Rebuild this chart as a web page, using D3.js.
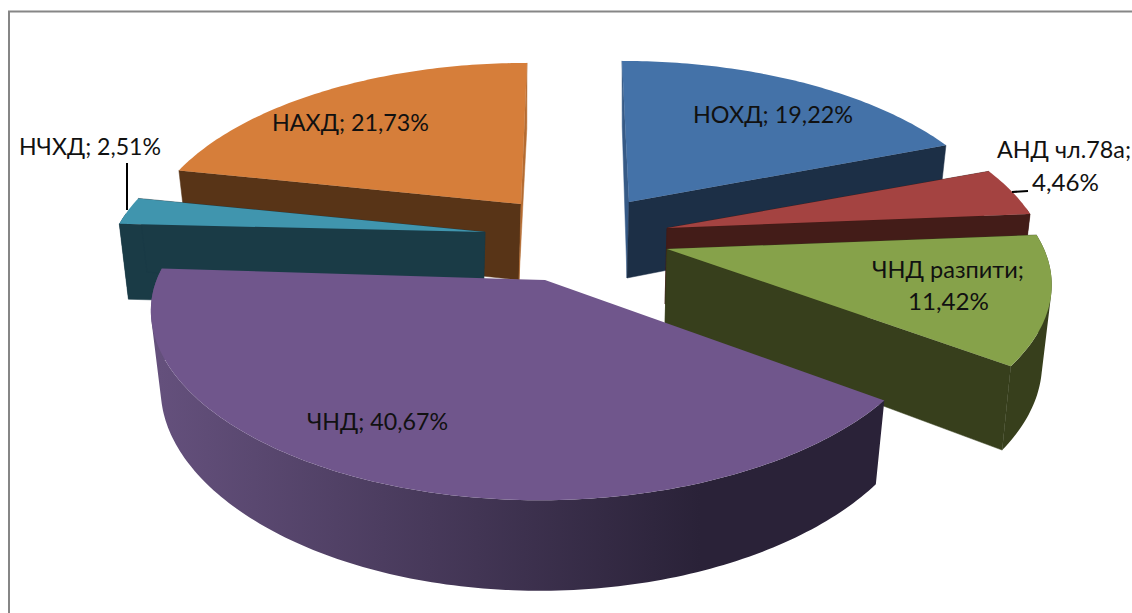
<!DOCTYPE html>
<html><head><meta charset="utf-8">
<script src="https://cdnjs.cloudflare.com/ajax/libs/d3/7.8.5/d3.min.js"></script>
<style>html,body{margin:0;padding:0;background:#fff;overflow:hidden}svg{display:block}</style>
</head><body><svg id="c" width="1132" height="613"></svg>
<script>
// --- data ---
const categories = ["НОХД","АНД чл.78а","ЧНД разпити","ЧНД","НЧХД","НАХД"];
const shares = [19.22,4.46,11.42,40.67,2.51,21.73];
const shareLabels = ["19,22%","4,46%","11,42%","40,67%","2,51%","21,73%"];

// --- style ---
const topColors  = ["#4472a8","#a44341","#86a24a","#70568c","#4095ae","#d67e3a"];
const wallColors = ["#1c2f46","#431c18","#373f1c","url(#purpleWall)","#1a3b46","#583417"];
const thinColors = ["#365a86","#431c18","#373f1c","#2a2238","#1a3b46","#b56c32"];

// --- layout: projection of each exploded slice ---
const apexX = [629,667,667,545,485,521];
const apexY = [202,228,249,280,232,204];
const spanX = [368.7,371,377,387,370,366.6];
const skewX = [8.5,0,-7.6,-10,0,-7.3];
const crossX = [0,0,0,-22,0,0];
const tiltY = [0,0,0,3.5,0,0];
const spanY = 172, persp = 0.219, depth0 = 76, depthPersp = 0.16, lowerScale = 0.975;

const labelLines = [
 [{t:0,x:693,y:123,w:160}],
 [{t:1,x:997,y:158,w:134},{t:2,x:1032,y:191,w:67}],
 [{t:1,x:872,y:278,w:152},{t:2,x:908,y:310,w:81}],
 [{t:0,x:307,y:430,w:141}],
 [{t:0,x:19,y:155,w:142}],
 [{t:0,x:272,y:131,w:157}]
];
const leaders = [
 {x1:127,y1:163,x2:127,y2:210},
 {x1:1012,y1:192,x2:1028,y2:191}
];
const drawOrder = [0,5,1,2,4,3];

const svg = d3.select("#c");
const grad = svg.append("defs").append("linearGradient").attr("id","purpleWall")
  .attr("gradientUnits","userSpaceOnUse").attr("x1",160).attr("x2",700).attr("y1",0).attr("y2",0);
grad.append("stop").attr("offset",0).attr("stop-color","#64507c");
grad.append("stop").attr("offset",1).attr("stop-color","#2a2238");

svg.append("path").attr("d","M9,613V11.5H1132").attr("fill","none").attr("stroke","#868686").attr("stroke-width",2);

const arcs = d3.pie().sort(null).startAngle(0).endAngle(2*Math.PI)(shares);
const pathOf = d3.line();

function topPt(i,th){
  const u=Math.sin(th), v=-Math.cos(th), w=1-persp*v;
  return [apexX[i]+(spanX[i]*u+skewX[i]*v+crossX[i]*u*v)/w, apexY[i]+(spanY*v+tiltY[i]*u)/w];
}
function lowPt(i,th){
  const p=topPt(i,th), v=-Math.cos(th);
  return [apexX[i]+(p[0]-apexX[i])*lowerScale, p[1]+depth0/(1-depthPersp*v)];
}
function lowApex(i){ return [apexX[i]-2, apexY[i]+depth0]; }

drawOrder.forEach(i=>{
  const a=arcs[i], g=svg.append("g");
  const n=Math.max(8,Math.ceil((a.endAngle-a.startAngle)*60));
  const ths=d3.range(n+1).map(k=>a.startAngle+(a.endAngle-a.startAngle)*k/n);
  // outer wall, only the part facing the viewer (one path, so no seams)
  let wall="";
  ths.slice(0,-1).forEach((t,k)=>{
    const t2=ths[k+1];
    if(-Math.cos(t)<-0.1 && -Math.cos(t2)<-0.1) return;
    let q=[topPt(i,t),topPt(i,t2),lowPt(i,t2),lowPt(i,t)];
    if(d3.polygonArea(q)<0) q=q.slice().reverse();
    wall+=pathOf(q)+"Z";
  });
  if(wall) g.append("path").attr("d",wall).attr("fill",wallColors[i]);
  // radial walls
  if(i!==3){
    const A=[apexX[i],apexY[i]], B=lowApex(i);
    const s=a.startAngle, e=a.endAngle;
    const startCol = i===0?thinColors[i]:wallColors[i], endCol = i===5?thinColors[i]:wallColors[i];
    g.append("path").attr("d",pathOf([A,topPt(i,s),lowPt(i,s),B])+"Z").attr("fill",startCol).attr("stroke",startCol).attr("stroke-width",0.5);
    g.append("path").attr("d",pathOf([A,topPt(i,e),lowPt(i,e),B])+"Z").attr("fill",endCol).attr("stroke",endCol).attr("stroke-width",0.5);
  }
  // top face
  g.append("path").attr("d",pathOf([[apexX[i],apexY[i]],...ths.map(t=>topPt(i,t))])+"Z").attr("fill",topColors[i]);
});

leaders.forEach(l=>svg.append("line").attr("x1",l.x1).attr("y1",l.y1).attr("x2",l.x2).attr("y2",l.y2).attr("stroke","#000").attr("stroke-width",2));

labelLines.forEach((lines,i)=>{
  lines.forEach(l=>{
    const txt = lines.length===1 ? `${categories[i]}; ${shareLabels[i]}` : (l.t===1 ? `${categories[i]};` : shareLabels[i]);
    svg.append("text").attr("x",l.x).attr("y",l.y).attr("textLength",l.w).attr("lengthAdjust","spacingAndGlyphs")
      .attr("font-family","Lato, 'Open Sans', sans-serif").attr("font-size",23).attr("fill","#111").text(txt);
  });
});
</script></body></html>
